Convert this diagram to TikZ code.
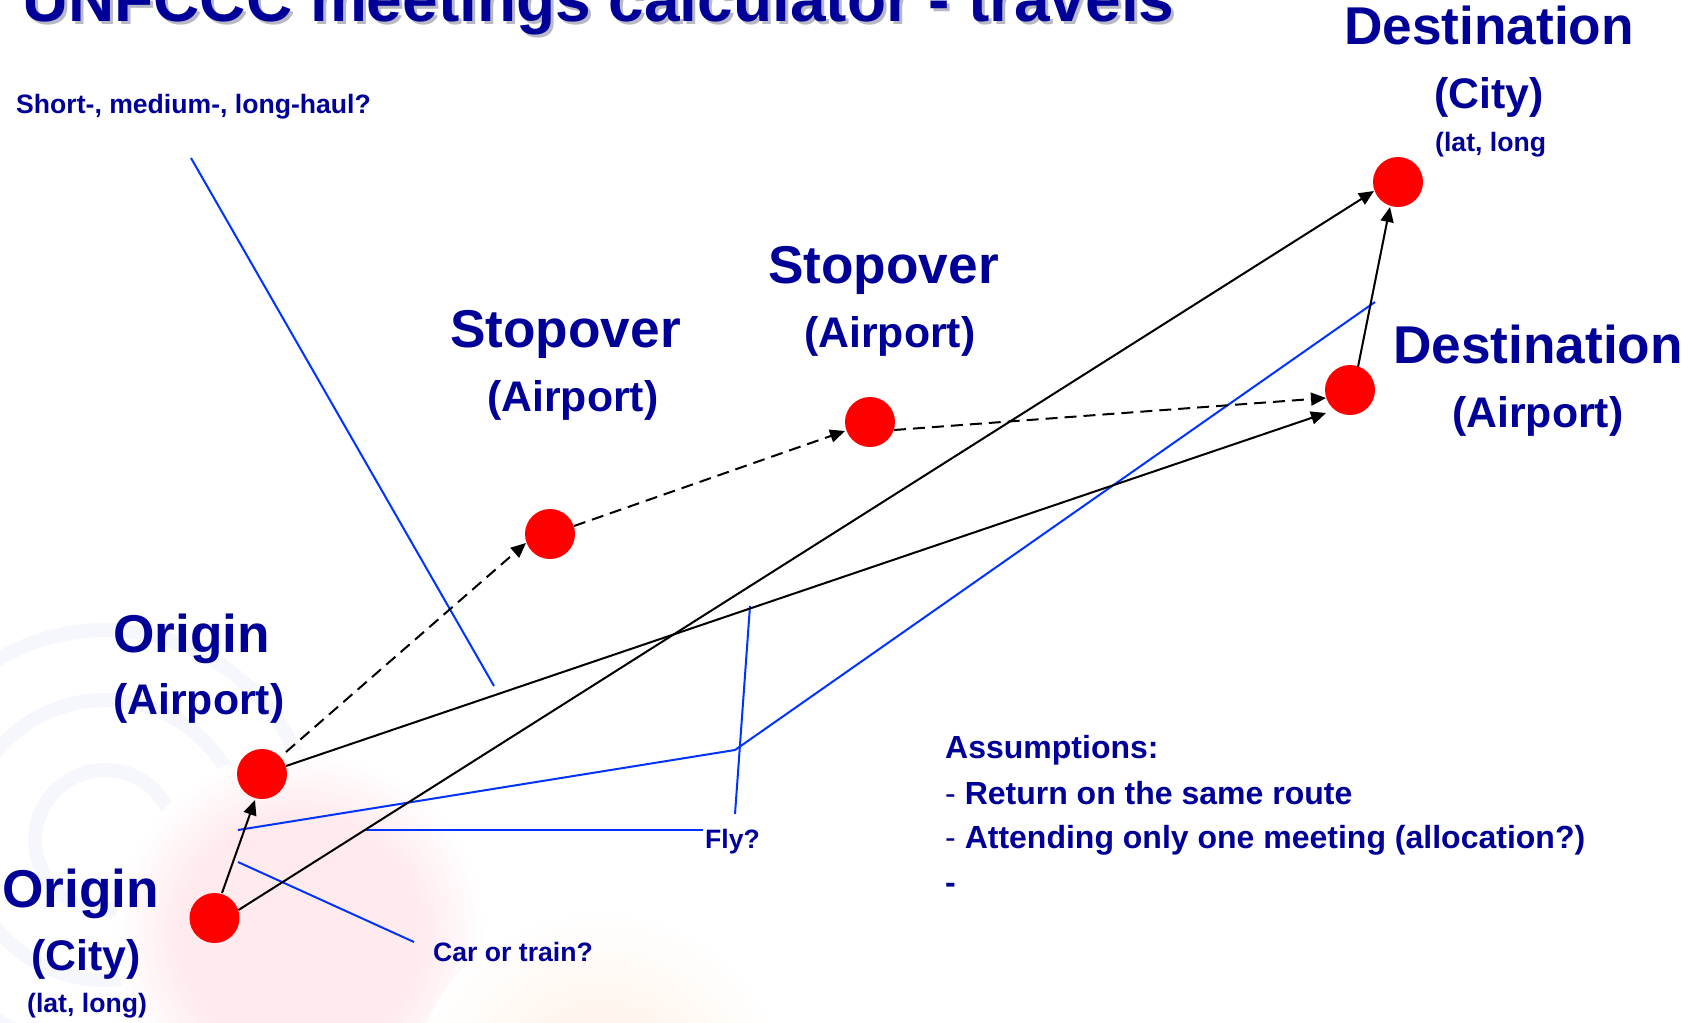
\documentclass[tikz,border=0pt]{standalone}
\usepackage{fontspec}
\setmainfont{Liberation Sans}
\usetikzlibrary{arrows.meta,calc}
\definecolor{navy}{RGB}{0,0,153}
\definecolor{pointer}{RGB}{0,51,255}
\definecolor{glowc}{RGB}{255,234,238}
\definecolor{peachc}{RGB}{255,244,236}
\definecolor{emblemc}{RGB}{245,247,253}
\definecolor{shadowc}{RGB}{185,185,195}
\pgfdeclareradialshading{pinkglow}{\pgfpoint{0bp}{0bp}}{color(0bp)=(glowc); color(16bp)=(glowc); color(25bp)=(white); color(50bp)=(white)}
\pgfdeclareradialshading{peachglow}{\pgfpoint{0bp}{0bp}}{color(0bp)=(peachc); color(10bp)=(peachc); color(25bp)=(white); color(50bp)=(white)}
\begin{document}
\begin{tikzpicture}[x=1pt,y=-1pt,
  dot/.style={circle,fill=red,draw=none,minimum size=50pt,inner sep=0pt},
  lab/.style={anchor=base west,inner sep=0pt,text=navy,font=\bfseries},
  big/.style={lab,font=\bfseries\fontsize{53.2}{60}\selectfont},
  mid/.style={lab,font=\bfseries\fontsize{42.8}{50}\selectfont},
  small/.style={lab,font=\bfseries\fontsize{26.6}{30}\selectfont},
  assum/.style={lab,font=\bfseries\fontsize{32}{38}\selectfont},
  arr/.style={line width=2pt,black,-{Triangle[length=15pt,width=13pt]}},
  darr/.style={arr,dash pattern=on 12pt off 7pt},
  ptr/.style={line width=2pt,pointer}]
\useasboundingbox (0,0) rectangle (1690,1023);
\fill[white] (0,0) rectangle (1690,1023);
\begin{scope}
\clip (0,0) rectangle (1690,1023);
\foreach \r in {70,140,210}{\draw[emblemc,line width=14pt] (105,840) circle (\r);}
\shade[shading=pinkglow] (300,935) circle (185);
\shade[shading=peachglow] (600,1100) circle (190);
\end{scope}

% title
\node[lab,text=shadowc,font=\bfseries\fontsize{64}{70}\selectfont] (titleshadow) at (25,24) {UNFCCC meetings calculator - travels};
\node[lab,font=\bfseries\fontsize{64}{70}\selectfont] (title) at (22,21) {UNFCCC meetings calculator - travels};

% labels
\node[small] (haul) at (16,113) {Short-, medium-, long-haul?};
\node[big] (oAt) at (113,652) {Origin};
\node[mid] (oAs) at (113,714) {(Airport)};
\node[big] (oCt) at (2,907) {Origin};
\node[mid] (oCs) at (31,970) {(City)};
\node[small] (oCl) at (27,1012) {(lat, long)};
\node[small] (car) at (433,961) {Car or train?};
\node[small] (fly) at (705,848) {Fly?};
\node[big] (s1t) at (450,347) {Stopover};
\node[mid] (s1s) at (487,411) {(Airport)};
\node[big] (s2t) at (768,283) {Stopover};
\node[mid] (s2s) at (804,347) {(Airport)};
\node[big] (dCt) at (1344,44) {Destination};
\node[mid] (dCs) at (1434,108) {(City)};
\node[small] (dCl) at (1435,151) {(lat, long};
\node[big] (dAt) at (1393,363) {Destination};
\node[mid] (dAs) at (1452,427) {(Airport)};
\node[assum] (as0) at (945,758) {Assumptions:};
\node[assum] (as1) at (945,804) {{\mdseries- }Return on the same route};
\node[assum] (as2) at (945,848) {{\mdseries- }Attending only one meeting (allocation?)};
\node[assum] (as3) at (945,893) {-};

% pointer lines (blue)
\coordinate (hA) at (191,158);
\coordinate (hB) at (494,686);
\coordinate (fH1) at (365,830);
\coordinate (fH2) at (703,830);
\coordinate (fV1) at (735,814);
\coordinate (fV2) at (750,606);
\coordinate (fP1) at (238,830);
\coordinate (fP2) at (735,750);
\coordinate (fP3) at (1375,302);
\coordinate (cA) at (238,862);
\coordinate (cB) at (414,942);
\draw[ptr] (hA) -- (hB);
\draw[ptr] (fH1) -- (fH2);
\draw[ptr] (fV1) -- (fV2);
\draw[ptr] (fP1) -- (fP2) -- (fP3);
\draw[ptr] (cA) -- (cB);

% dots
\node[dot] (oC) at (214.5,918) {};
\node[dot] (oA) at (262,774) {};
\node[dot] (s1) at (550,534) {};
\node[dot] (s2) at (870,422) {};
\node[dot] (dA) at (1350,390) {};
\node[dot] (dC) at (1398,182) {};

% connectors
\draw[arr] ($(oC)+(7.5,-25)$) -- ($(oA)+(-7,26)$);
\draw[arr] ($(oC)+(24,-8)$) -- ($(dC)+(-24,9)$);
\draw[arr] ($(oA)+(24,-8)$) -- ($(dA)+(-24,23)$);
\draw[darr] ($(oA)+(24,-22)$) -- ($(s1)+(-24,9)$);
\draw[darr] ($(s1)+(24,-8)$) -- ($(s2)+(-25,9)$);
\draw[darr] ($(s2)+(24,8)$) -- ($(dA)+(-24,8)$);
\draw[arr] ($(dA)+(8,-23)$) -- ($(dC)+(-8,25)$);
\end{tikzpicture}
\end{document}
